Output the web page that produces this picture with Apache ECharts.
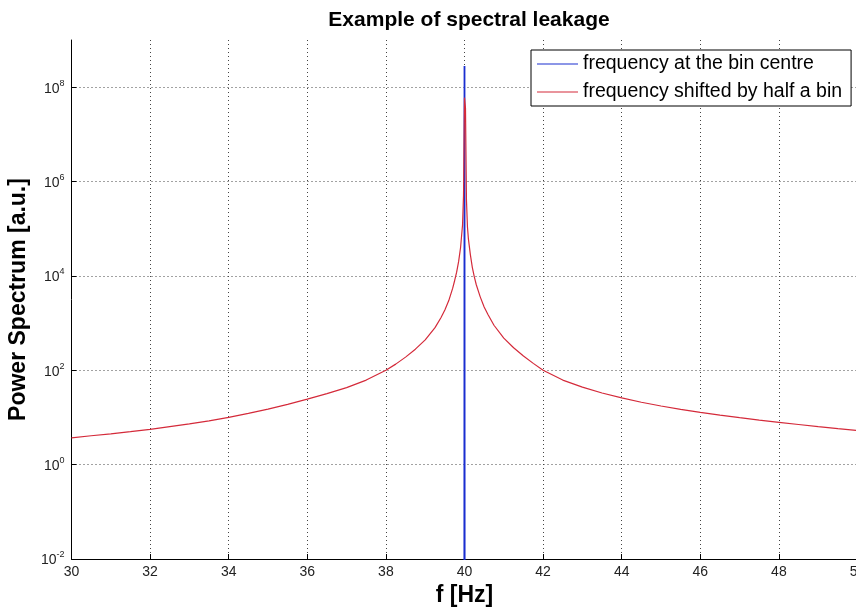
<!DOCTYPE html>
<html>
<head>
<meta charset="utf-8">
<script src="https://cdn.jsdelivr.net/npm/echarts@6/dist/echarts.min.js"></script>
<style>
html,body{margin:0;padding:0;background:#fff;overflow:hidden;}
#chart{width:856px;height:607px;}
</style>
</head>
<body>
<div id="chart"></div>
<script>
// ---- data ----
const titleText = 'Example of spectral leakage';
const xName = 'f [Hz]';
const yName = 'Power Spectrum [a.u.]';
const seriesNames = ['frequency at the bin centre', 'frequency shifted by half a bin'];

const freqBlue = [30, 39.99, 40.0, 40.01, 50];
const powerBlue = [1e-20, 1e-20, 2.8e8, 1e-20, 1e-20];

const freqRed = [
  30, 30.5, 31, 31.5, 32, 32.5, 33, 33.5, 34, 34.5, 35, 35.5, 36, 36.5, 37, 37.5, 38, 38.25, 38.5, 38.75,
  39, 39.25, 39.4, 39.5, 39.6, 39.7, 39.75, 39.8, 39.85, 39.9, 39.95, 39.975,
  40.0, 40.025, 40.05, 40.075, 40.1, 40.15, 40.2, 40.25, 40.3, 40.4, 40.5, 40.6, 40.75,
  41, 41.25, 41.5, 41.75, 42, 42.5, 43, 43.5, 44, 44.5, 45, 45.5, 46, 46.5, 47, 47.5, 48, 48.5, 49, 49.5, 50];
const powerRed = [
  3.7, 4.1, 4.5, 5.0, 5.6, 6.4, 7.3, 8.5, 10, 12.2, 15, 19, 24.5, 32, 43, 62, 100, 135, 190, 280,
  440, 800, 1300, 1900, 3000, 5500, 8000, 12000, 20000, 40000, 120000, 500000,
  6e7, 3.6e7, 4e5, 110000, 60000, 28000, 15000, 9500, 6500, 3600, 2200, 1500, 900,
  480, 300, 200, 140, 100, 62, 44, 33, 26, 21, 17.5, 14.8, 12.8, 11.2, 9.9, 8.8, 7.9, 7.1, 6.4, 5.8, 5.3];

const xMin = 30, xMax = 50, xStep = 2;
const yMin = 1e-2, yMax = 1e9;

function pairs(xs, ys){ return xs.map((x,i)=>[x, ys[i]]); }

const chart = echarts.init(document.getElementById('chart'), null, {renderer:'canvas'});
const font = 'Liberation Sans, Arial, sans-serif';
chart.setOption({
  animation: false,
  backgroundColor: '#fff',
  title: {
    text: titleText, left: 464, top: 5, textAlign: 'center',
    textStyle: {fontFamily: font, fontSize: 21, fontWeight: 'bold', color: '#000'}
  },
  legend: {
    orient: 'vertical', left: 531, top: 50,
    data: seriesNames,
    icon: 'rect', itemWidth: 41, itemHeight: 1.2, itemGap: 8,
    padding: [4, 9, 4, 6],
    borderColor: '#000', borderWidth: 1, backgroundColor: '#fff',
    textStyle: {fontFamily: font, fontSize: 19.5, color: '#000'}
  },
  grid: {left: 71.5, top: 40, width: 786, height: 519, containLabel: false, outerBoundsMode: 'none'},
  xAxis: {
    type: 'value', min: xMin, max: xMax, interval: xStep,
    name: xName, nameLocation: 'middle', nameGap: 23,
    nameTextStyle: {fontFamily: font, fontSize: 23, fontWeight: 'bold', color: '#000', verticalAlign: 'top'},
    axisLine: {show: true, onZero: false, lineStyle: {color: '#000', width: 1}},
    axisTick: {show: true, inside: true, length: 5, lineStyle: {color: '#000'}},
    axisLabel: {fontFamily: font, fontSize: 14, color: '#222', margin: 6},
    splitLine: {show: true, showMinLine: false, lineStyle: {color: '#444', type: [1, 3], width: 1}}
  },
  yAxis: {
    type: 'log', logBase: 100, min: yMin, max: yMax,
    name: yName, nameLocation: 'middle', nameGap: 36, nameRotate: 90,
    nameTextStyle: {fontFamily: font, fontSize: 23, fontWeight: 'bold', color: '#000'},
    axisLine: {show: true, lineStyle: {color: '#000', width: 1}},
    axisTick: {show: true, inside: true, length: 5, lineStyle: {color: '#000'}},
    axisLabel: {
      showMaxLabel: false, margin: 7,
      formatter: function(v){ const e = Math.round(Math.log10(v)); return '{b|10}{s|' + e + '}'; },
      rich: {
        b: {fontFamily: font, fontSize: 14, color: '#222', verticalAlign: 'bottom', lineHeight: 14},
        s: {fontFamily: font, fontSize: 9, color: '#222', verticalAlign: 'top', padding: [0,0,8,0]}
      }
    },
    splitLine: {show: true, showMinLine: false, showMaxLine: false, lineStyle: {color: '#444', type: [1, 3], width: 1}}
  },
  series: [
    {
      name: seriesNames[0], type: 'line', data: pairs(freqBlue, powerBlue),
      showSymbol: false, symbol: 'none', clip: true,
      lineStyle: {color: '#1a2ed0', width: 1.8}, itemStyle: {color: '#1a2ed0'}
    },
    {
      name: seriesNames[1], type: 'line', data: pairs(freqRed, powerRed),
      showSymbol: false, symbol: 'none', clip: true, smooth: false,
      lineStyle: {color: '#d42a3a', width: 1.2}, itemStyle: {color: '#d42a3a'}
    }
  ]
});
</script>
</body>
</html>
